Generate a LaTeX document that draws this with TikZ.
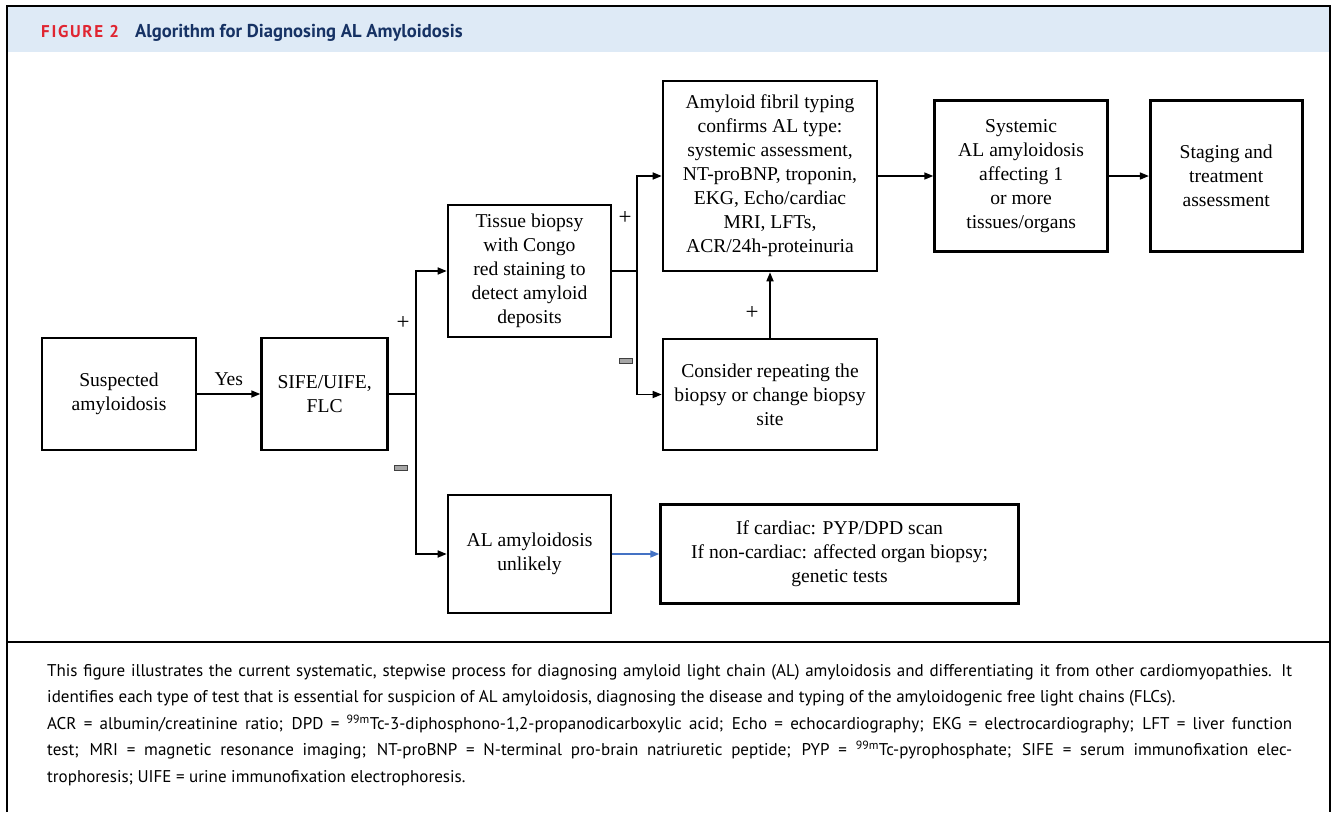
\documentclass[tikz,border=0pt]{standalone}
\usepackage{fontspec}
\setmainfont{Liberation Serif}
\newfontfamily\capfont{PT Sans}
\usetikzlibrary{positioning, arrows.meta, calc}
\definecolor{figred}{RGB}{224,37,49}
\definecolor{navy}{RGB}{22,50,100}
\definecolor{band}{RGB}{222,234,246}
\definecolor{arrowblue}{RGB}{68,114,196}
\def\boxfont{\fontsize{19.6}{24}\selectfont}

\begin{document}
\begin{tikzpicture}[x=1pt, y=-1pt,
    box/.style={rectangle, draw=black, line width=2.6pt, text centered, align=center, font=\boxfont},
    arrow/.style={line width=1.6pt, -{Triangle[length=9pt,width=7pt]}},
    line/.style={line width=1.6pt},
    sign/.style={font=\fontsize{23}{24}\selectfont, inner sep=0pt},
    minus/.style={rectangle, draw=black!75, fill=black!35, minimum width=13pt, minimum height=4.5pt, inner sep=0pt, line width=0.8pt},
]
\useasboundingbox (0,0) rectangle (1336,812);

% Frame and header
\fill[band] (7,6) rectangle (1330,52);
\draw[line width=1.5pt] (7,812) -- (7,6) -- (1330,6) -- (1330,812);
\draw[line width=1.2pt] (7,642) -- (1330,642);
\node (figno) [anchor=base west, inner sep=0pt, text=figred, font=\capfont\bfseries\fontsize{17}{18}\selectfont\addfontfeature{LetterSpace=10}] at (41,37) {FIGURE 2};
\node (title) [anchor=base west, inner sep=0pt, text=navy, font=\capfont\bfseries\fontsize{18.6}{20}\selectfont] at (135,37) {Algorithm for Diagnosing AL Amyloidosis};

% Initial definitions
\node (susp) [box, minimum width=154pt, minimum height=112pt] at (119,394) {Suspected\\amyloidosis};
\node (sife) [box, minimum width=126pt, minimum height=112pt, right=63pt of susp] {SIFE/UIFE,\\FLC};
\node (biopsy) [box, minimum width=163pt, minimum height=132pt] at (529.5,271) {Tissue biopsy\\with Congo\\red staining to\\detect amyloid\\deposits};
\node (unlikely) [box, minimum width=163pt, minimum height=118pt] at (529.5,554) {AL amyloidosis\\unlikely};
\node (cardiac) [box, minimum width=358pt, minimum height=99pt, right=47pt of unlikely] {If cardiac: PYP/DPD scan\\If non-cardiac: affected organ biopsy;\\genetic tests};
\node (amyloid) [box, minimum width=214pt, minimum height=190pt] at (770,176) {Amyloid fibril typing\\confirms AL type:\\systemic assessment,\\NT-proBNP, troponin,\\EKG, Echo/cardiac\\MRI, LFTs,\\ACR/24h-proteinuria};
\node (consider) [box, minimum width=214pt, minimum height=111pt] at (770,394.5) {Consider repeating the\\biopsy or change biopsy\\site};
\node (systemic) [box, minimum width=173pt, minimum height=151pt, right=55pt of amyloid] {Systemic\\AL amyloidosis\\affecting 1\\or more\\tissues/organs};
\node (staging) [box, minimum width=152pt, minimum height=151pt, right=40pt of systemic] {Staging and\\treatment\\assessment};
\coordinate (split1) at (416,394);
\coordinate (split2) at (637,271);

% Arrows and paths
\draw [arrow] (susp) -- node[above=8pt, font=\boxfont, inner sep=0pt] (yes) {Yes} (sife);
\draw [line] (sife.east) -- (split1);
\draw [arrow] (split1) |- (biopsy.west);
\draw [arrow] (split1) |- (unlikely.west);
\draw [arrow, arrowblue] (unlikely.east) -- (cardiac.west);
\draw [line] (biopsy.east) -- (split2);
\draw [arrow] (split2) |- (amyloid.west);
\draw [arrow] (split2) |- (consider.west);
\draw [arrow] (consider.north) -- (amyloid.south);
\draw [arrow] (amyloid.east) -- (systemic.west);
\draw [arrow] (systemic.east) -- (staging.west);

% Signs
\node (plus1) [sign] at (403,323) {+};
\node (minus1) [minus] at (401,468) {};
\node (plus2) [sign] at (625,218) {+};
\node (minus2) [minus] at (626,361) {};
\node (plus3) [sign] at (752,313) {+};

% Caption
\node (caption) [anchor=north west, inner sep=0pt, text width=1245pt, align=justify, font=\capfont\fontsize{17}{26.5}\selectfont] at (47,664) {This figure illustrates the current systematic, stepwise process for diagnosing amyloid light chain (AL) amyloidosis and differentiating it from other cardiomyopathies. It\linebreak identifies each type of test that is essential for suspicion of AL amyloidosis, diagnosing the disease and typing of the amyloidogenic free light chains (FLCs).\\
ACR = albumin/creatinine ratio; DPD = \textsuperscript{99m}Tc-3-diphosphono-1,2-propanodicarboxylic acid; Echo = echocardiography; EKG = electrocardiography; LFT = liver function\linebreak test; MRI = magnetic resonance imaging; NT-proBNP = N-terminal pro-brain natriuretic peptide; PYP = \textsuperscript{99m}Tc-pyrophosphate; SIFE = serum immunofixation elec-\linebreak trophoresis; UIFE = urine immunofixation electrophoresis.};
\end{tikzpicture}
\end{document}
